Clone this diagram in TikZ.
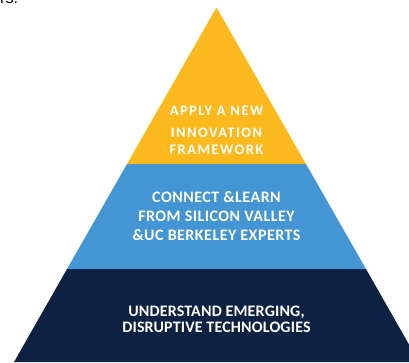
\documentclass[tikz,border=0pt]{standalone}
\usepackage{fontspec}
\setmainfont{Carlito}
\newfontfamily\notefont{Liberation Sans}
\newfontfamily\widefont[LetterSpace=10]{Carlito}
\newfontfamily\midfont[LetterSpace=3]{Carlito}
\newfontfamily\lowfont[LetterSpace=1]{Carlito}
\usetikzlibrary{positioning}

\definecolor{pyryellow}{RGB}{251,185,30}
\definecolor{pyrblue}{RGB}{67,149,211}
\definecolor{pyrnavy}{RGB}{13,33,66}

\begin{document}
\begin{tikzpicture}[x=1pt, y=1pt,
    tier/.style={text=white, align=center, inner sep=0pt}]
    \useasboundingbox (0,0) rectangle (409,362);
    \clip (0,0) rectangle (409,362);
    % three layers of the pyramid
    \fill[pyrnavy] (14,0) -- (67,93) -- (366,93) -- (419,0) -- cycle;
    \fill[pyrblue] (67,93) -- (127,198) -- (306,198) -- (366,93) -- cycle;
    \fill[pyryellow] (127,198) -- (216.5,354.5) -- (306,198) -- cycle;
    % labels
    \node[tier, font=\widefont\bfseries\fontsize{14.5}{19}\selectfont] (apply) at (216.5,232) {APPLY A NEW\\[3pt] INNOVATION\\[-2pt] FRAMEWORK};
    \node[tier, font=\midfont\bfseries\fontsize{16}{19}\selectfont] (connect) at (216.5,146) {CONNECT \&LEARN\\ FROM SILICON VALLEY\\ \&UC BERKELEY EXPERTS};
    \node[tier, font=\lowfont\bfseries\fontsize{16}{16}\selectfont] (understand) at (216.5,43) {UNDERSTAND EMERGING,\\ DISRUPTIVE TECHNOLOGIES};
    % cut-off text above
    \node[anchor=base west, inner sep=0pt, font=\notefont\fontsize{16}{18}\selectfont] (cut) at (0,358.5) {rs.};
\end{tikzpicture}
\end{document}
